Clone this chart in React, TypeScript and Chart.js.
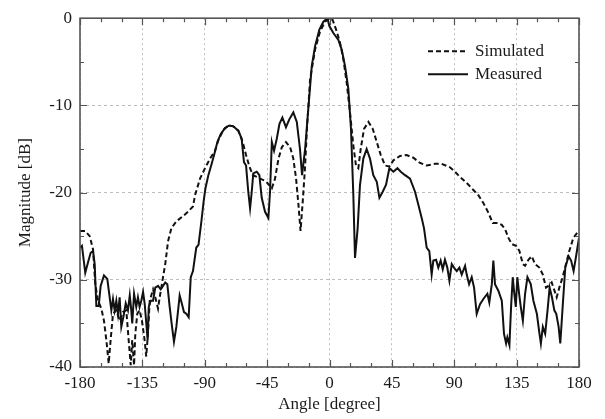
import React, { useEffect, useRef } from "react";
import { Chart, registerables } from "chart.js";

Chart.register(...registerables);

// ---- Data ----
const seriesLabels = ["Simulated", "Measured"];

const simAngles = [
  -180, -176.2, -173, -170.6, -169, -167, -164.6, -162.7, -161, -159.3, -157.9, -156.2,
  -153.8, -151.4, -149, -146.6, -144.9, -143.4, -142.3, -141, -140.1, -138.7, -137,
  -135.3, -133.4, -132.2, -131, -129.7, -127.3, -125.7, -123.7, -122.5, -120.1, -118.5,
  -116.5, -114.1, -110.5, -105.7, -102.1, -98.5, -97, -93.4, -89.8, -86.2, -82.6, -80.2,
  -76.6, -73, -69.4, -65.8, -62.6, -60.2, -57.8, -55.3, -52.5, -50.1, -47.2, -44.8,
  -41.6, -39.3, -36.8, -34.4, -31.4, -28.4, -26.1, -24.1, -22.4, -20.9, -19.3, -17.8,
  -16.2, -14, -10.4, -6.8, -3.2, -0.1, 2.3, 5.2, 7.6, 10, 12.4, 14.8, 17.2, 19.1, 20.8,
  22.5, 24.9, 28.1, 31.2, 34.1, 37, 40.1, 43.2, 46.1, 50.9, 55.7, 60.5, 65.3, 70.1, 76.1,
  80.9, 86.9, 90.5, 94.1, 99, 103.8, 107.4, 111, 114.6, 117.8, 121.8, 124.3, 126.7, 129.1,
  131.5, 134.6, 137, 139.5, 141.1, 143.5, 145.9, 148.3, 151.4, 153.9, 156.2, 157.9, 160.3,
  162, 163.9, 165.8, 168.2, 170.6, 173, 175.9, 178.8, 180,
];
const simValues = [
  -24.4, -24.4, -25.0, -26.5, -30.5, -32.4, -33.3, -34.7, -36.9, -39.6, -36.9, -33.9,
  -33.5, -34.7, -33.7, -33.5, -36.9, -39.8, -36.9, -39.8, -36.2, -33.9, -33.5,
  -34.7, -36.9, -38.8, -36.2, -32.4, -31.1, -32.0, -33.3, -32.0, -29.7, -28.2,
  -25.6, -24.1, -23.3, -22.7, -22.2, -21.6, -20.3, -18.4, -17.2, -16.1, -15.2, -14.0,
  -12.8, -12.3, -12.4, -12.9, -14.2, -15.7, -17.0, -18.0, -18.2, -18.4, -18.6, -18.9,
  -19.5, -18.4, -16.1, -14.8, -14.2, -14.8, -16.1, -18.4, -21.4, -24.4, -21.0, -17.5,
  -12.5, -7.0, -3.6, -1.5, -0.4, 0, -0.2, -1.5, -2.8, -4.7, -7.4, -10.8, -14.6, -16.9, -17.2,
  -15.0, -12.7, -11.9, -12.7, -14.2, -15.7, -16.9, -17.0, -16.3, -15.8, -15.7, -16.0, -16.6, -16.9, -16.7,
  -16.7, -17.1, -17.6, -18.2, -18.9, -19.7, -20.3, -21.2, -22.3, -23.5, -23.5, -23.7, -24.2, -25.2,
  -25.9, -26.1, -26.7, -28.2, -28.4, -27.7, -27.3, -28.2, -28.6, -29.4, -30.9, -30.7, -30.3,
  -31.1, -32.0, -30.9, -29.7, -28.2, -26.7, -25.2, -24.6, -24.4,
];

const measAngles = [
  -180, -178.6, -176.2, -174.2, -172.3, -170.6, -169.4, -168.2, -166.5, -165.1, -162.7,
  -160.3, -158.6, -157.4, -156.2, -155, -153.8, -152.6, -151.4, -150.2, -148.5, -147,
  -145.4, -144.1, -143, -142.3, -141, -139.4, -138.2, -137, -135.8, -134.5, -133.3,
  -131.2, -130.4, -129, -127.3, -125.7, -123.7, -121.8, -120.1, -118.5, -117, -115.3,
  -113.6, -112.2, -110.5, -108.1, -106.4, -105, -103.3, -101.6, -100.1, -98.5, -96.1,
  -94.5, -92.5, -90.8, -89.5, -87.4, -85, -82.6, -80.9, -78.5, -75.4, -72.3, -69.4,
  -65.8, -63.4, -61.7, -60.2, -58.6, -57.3, -56.1, -55, -52.5, -50.6, -48.9, -46.5,
  -44.1, -42.9, -41.6, -40, -38, -36.1, -34, -31.4, -29, -26.1, -23.6, -21.3, -19.8,
  -17.6, -15.2, -12.8, -10.4, -7.3, -4.4, -1.5, -0.1, 2.8, 6.4, 8.8, 11.2, 13.6, 15.5,
  17.2, 18.4, 20.3, 22, 24.4, 26.8, 29.2, 31.6, 34.1, 36, 38.4, 40.8, 43.2, 46.1, 49,
  51.4, 54.5, 58.1, 61.7, 64.1, 66.5, 68.2, 70.1, 72, 73.7, 74.9, 76.9, 78.5, 80.2, 81.7,
  83.3, 85, 86.5, 88.2, 89.8, 91.8, 93.7, 95.4, 97.8, 99, 100.7, 102.6, 104.3, 106.2,
  108.6, 111, 113.9, 115.3, 117.1, 118.2, 119.4, 121.8, 124.3, 125.9, 127.4, 128.3,
  129.8, 131, 132.2, 133.1, 134.4, 135.5, 136.8, 138, 139.5, 141.1, 142.8, 145.2, 147.1,
  149.6, 151.5, 152.5, 153.9, 155.6, 157.3, 158.8, 160.5, 162.2, 163.6, 165.3, 166.5,
  168.5, 170.1, 172.5, 174.3, 176.1, 178.1, 180,
];
const measValues = [
  -26.3, -26.1, -29.2, -28.0, -26.9, -26.7, -28.2, -33.0, -33.0, -30.7, -29.5,
  -29.9, -32.0, -33.5, -32.2, -33.5, -32.4, -33.9, -32.0, -35.4, -34.1, -32.7,
  -33.5, -31.8, -33.5, -35.0, -31.6, -33.1, -32.0, -33.1, -32.4, -31.4, -32.8,
  -36.9, -33.1, -32.4, -32.4, -30.9, -30.7, -31.1, -30.7, -30.3, -30.5, -33.1,
  -35.4, -37.1, -35.4, -31.8, -32.8, -33.7, -33.9, -34.3, -29.7, -29.0, -26.3,
  -26.0, -23.4, -21.0, -19.5, -18.0, -16.7, -15.3, -14.2, -13.3, -12.6, -12.3, -12.4,
  -12.9, -13.8, -16.5, -16.9, -19.9, -21.8, -19.9, -17.8, -17.6, -18.0, -20.6, -22.2,
  -22.9, -19.9, -14.2, -15.2, -13.8, -12.1, -11.4, -12.5, -11.6, -10.8, -11.9, -15.0, -18.0,
  -15.0, -10.2, -5.5, -3.2, -1.3, -0.4, 0, -0.9, -1.7, -2.5, -3.6, -5.5, -8.1, -12.7,
  -20.3, -27.5, -24.1, -19.1, -16.1, -15.0, -16.1, -18.0, -18.75, -20.6, -19.9, -19.1, -17.2, -17.6, -17.2,
  -17.6, -18.0, -18.4, -19.9, -21.4, -22.9, -24.1, -26.3, -26.7, -29.4, -27.8, -27.7, -28.6, -27.8, -28.8,
  -27.7, -28.6, -30.1, -28.2, -28.6, -29.0, -28.6, -29.4, -28.4, -29.4, -30.5, -29.7, -30.9, -33.9,
  -32.8, -32.2, -31.6, -32.6, -30.5, -27.8, -30.5, -31.25, -32.4, -36.2, -37.3, -36.6,
  -37.5, -33.1, -29.7, -31.25, -33.1, -29.7, -31.6, -33.1, -34.7, -31.6, -29.7, -30.5, -32.4,
  -33.9, -36.2, -37.3, -35.4, -36.2, -33.5, -30.9, -32.0, -33.5, -33.9, -35.4, -37.3,
  -32.4, -28.6, -27.3, -27.8, -29.0, -27.1, -25.2,
];

const xMin = -180;
const xMax = 180;
const xStep = 15;
const xMajor = 45;
const yMin = -40;
const yMax = 0;
const yStep = 5;
const yMajor = 10;
const xTitle = "Angle [degree]";
const yTitle = "Magnitude [dB]";

const FONT = "'Liberation Serif', 'Times New Roman', serif";
const TEXT = "#1a1a1a";

const decorPlugin = {
  id: "decor",
  afterDatasetsDraw(chart: any) {
    const { ctx, chartArea: a, scales } = chart;
    const xs = scales.x;
    const ys = scales.y;
    ctx.save();
    // inward tick marks on all four sides
    ctx.strokeStyle = "#555";
    ctx.lineWidth = 1.2;
    ctx.beginPath();
    xs.ticks.forEach((t: any) => {
      const p = Math.round(xs.getPixelForValue(t.value)) + 0.5;
      const len = t.value % xMajor === 0 ? 7 : 4;
      ctx.moveTo(p, a.bottom);
      ctx.lineTo(p, a.bottom - len);
      ctx.moveTo(p, a.top);
      ctx.lineTo(p, a.top + len);
    });
    ys.ticks.forEach((t: any) => {
      const p = Math.round(ys.getPixelForValue(t.value)) + 0.5;
      const len = t.value % yMajor === 0 ? 7 : 4;
      ctx.moveTo(a.left, p);
      ctx.lineTo(a.left + len, p);
      ctx.moveTo(a.right, p);
      ctx.lineTo(a.right - len, p);
    });
    ctx.stroke();
    // frame
    ctx.lineWidth = 1.6;
    ctx.strokeStyle = "#555";
    ctx.strokeRect(a.left, a.top, a.right - a.left, a.bottom - a.top);
    // legend inside the plot area
    chart.data.datasets.forEach((ds: any, i: number) => {
      const y = a.top + 33 + i * 23;
      ctx.beginPath();
      ctx.strokeStyle = ds.borderColor;
      ctx.lineWidth = ds.borderWidth;
      ctx.setLineDash(ds.borderDash || []);
      ctx.moveTo(a.right - 151, y);
      ctx.lineTo(a.right - 111, y);
      ctx.stroke();
      ctx.setLineDash([]);
      ctx.fillStyle = TEXT;
      ctx.font = `17px ${FONT}`;
      ctx.textBaseline = "middle";
      ctx.textAlign = "left";
      ctx.fillText(ds.label, a.right - 104, y);
    });
    ctx.restore();
  },
};

export default function App() {
  const ref = useRef<HTMLCanvasElement | null>(null);

  useEffect(() => {
    if (!ref.current) return;
    const sim = simAngles.map((x, i) => ({ x, y: simValues[i] }));
    const meas = measAngles.map((x, i) => ({ x, y: measValues[i] }));
    const gridColor = (major: number) => (c: any) =>
      c.tick && c.tick.value % major === 0 ? "#bdbdbd" : "rgba(0,0,0,0)";

    const chart = new Chart(ref.current, {
      type: "line",
      data: {
        datasets: [
          {
            label: seriesLabels[0],
            data: sim,
            borderColor: "#111",
            borderWidth: 2,
            borderDash: [5, 3],
            pointRadius: 0,
            tension: 0,
            fill: false,
          },
          {
            label: seriesLabels[1],
            data: meas,
            borderColor: "#111",
            borderWidth: 2,
            pointRadius: 0,
            tension: 0,
            fill: false,
          },
        ],
      },
      options: {
        animation: false,
        responsive: false,
        devicePixelRatio: 1,
        layout: { padding: { top: 15, right: 26, left: 0, bottom: 0 } },
        plugins: { legend: { display: false }, tooltip: { enabled: false } },
        scales: {
          x: {
            type: "linear",
            min: xMin,
            max: xMax,
            afterFit: (s: any) => {
              s.height = 52;
            },
            ticks: {
              stepSize: xStep,
              autoSkip: false,
              maxRotation: 0,
              padding: 6,
              color: TEXT,
              font: { family: FONT, size: 17 },
              callback: (v: any) => (Number(v) % xMajor === 0 ? String(v) : ""),
            },
            grid: { color: gridColor(xMajor), lineWidth: 1, drawTicks: false },
            border: { display: false, dash: [2, 3] },
            title: {
              display: true,
              text: xTitle,
              color: TEXT,
              font: { family: FONT, size: 17 },
              padding: { top: 0, bottom: 4 },
            },
          },
          y: {
            type: "linear",
            min: yMin,
            max: yMax,
            afterFit: (s: any) => {
              s.width = 80;
            },
            ticks: {
              stepSize: yStep,
              autoSkip: false,
              padding: 8,
              color: TEXT,
              font: { family: FONT, size: 17 },
              callback: (v: any) => (Number(v) % yMajor === 0 ? String(v) : ""),
            },
            grid: { color: gridColor(yMajor), lineWidth: 1, drawTicks: false },
            border: { display: false, dash: [3, 3] },
            title: {
              display: true,
              text: yTitle,
              color: TEXT,
              font: { family: FONT, size: 17 },
              padding: { top: 15, bottom: 0 },
            },
          },
        },
      },
      plugins: [decorPlugin],
    });
    return () => chart.destroy();
  }, []);

  return (
    <div style={{ position: "absolute", left: 0, top: 0, width: 605, height: 419, background: "#fff" }}>
      <canvas ref={ref} width={605} height={419} style={{ width: 605, height: 419 }} />
    </div>
  );
}
